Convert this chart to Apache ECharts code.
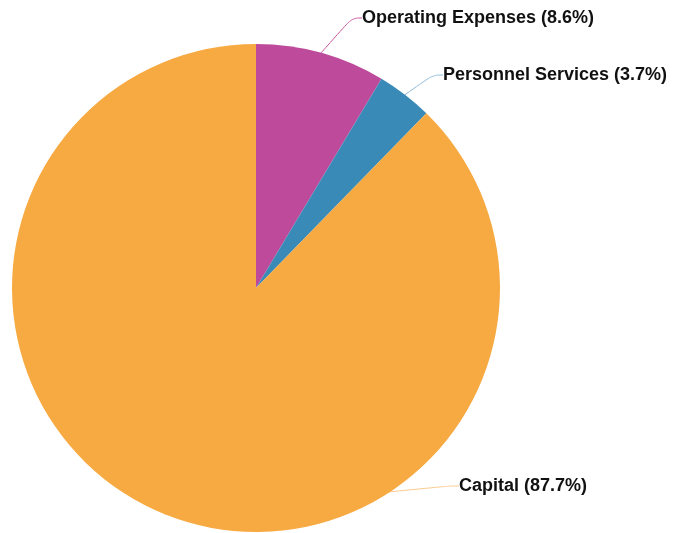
<!DOCTYPE html>
<html><head><meta charset="utf-8">
<script src="https://cdn.jsdelivr.net/npm/echarts@6/dist/echarts.min.js"></script>
<style>html,body{margin:0;padding:0;background:#fff}#c{width:673px;height:533px}</style>
</head><body><div id="c"></div>
<script>
const categories = ['Operating Expenses', 'Personnel Services', 'Capital'];
const values = [8.6, 3.7, 87.7];
const colors = ['#BD4A9A', '#3A8AB7', '#F7AA42'];
const lineColors = ['#C9579F', '#8FB9D6', '#F9C98A'];
const labelPos = [[362, 18], [443, 75], [459, 486]];

const chart = echarts.init(document.getElementById('c'), null, {renderer: 'canvas'});
chart.setOption({
  animation: false,
  series: [{
    type: 'pie',
    center: [256, 288],
    radius: 244,
    startAngle: 90,
    clockwise: true,
    data: categories.map((n, i) => ({
      name: n, value: values[i],
      itemStyle: {color: colors[i]},
      labelLine: {lineStyle: {color: lineColors[i], width: 1}}
    })),
    label: {
      show: true,
      formatter: p => p.name + ' (' + p.value.toFixed(1) + '%)',
      color: '#111',
      fontWeight: 'bold',
      fontSize: 18,
      fontFamily: 'Liberation Sans'
    },
    labelLine: {show: true, smooth: 0.4, length: 15, length2: 10},
    labelLayout: p => ({
      x: labelPos[p.dataIndex][0],
      y: labelPos[p.dataIndex][1],
      align: 'left',
      verticalAlign: 'middle'
    }),
    itemStyle: {borderWidth: 0}
  }]
});
</script></body></html>
